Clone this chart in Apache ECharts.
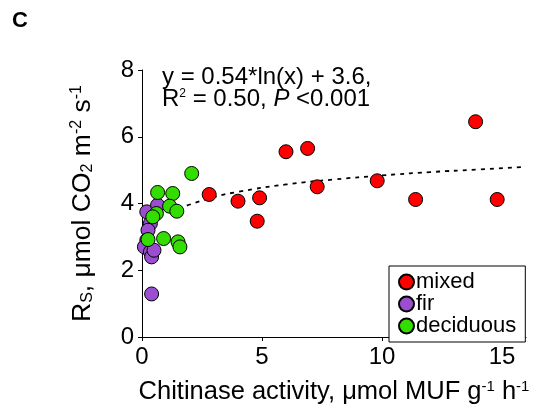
<!DOCTYPE html>
<html>
<head>
<meta charset="utf-8">
<script src="https://cdn.jsdelivr.net/npm/echarts@6/dist/echarts.min.js"></script>
<style>
  html, body { margin: 0; padding: 0; background: #fff; }
  #chart { width: 553px; height: 412px; }
</style>
</head>
<body>
<div id="chart"></div>
<script>
// values
var mixedX = [2.8, 4.0, 4.8, 4.9, 6.0, 6.9, 7.3, 9.8, 11.4, 13.9, 14.8];
var mixedY = [4.27, 4.07, 3.47, 4.17, 5.55, 5.65, 4.5, 4.68, 4.12, 6.45, 4.12];

var firX = [0.2, 0.65, 0.35, 0.25, 0.2, 0.1, 0.35, 0.4, 0.5, 0.4];
var firY = [3.75, 3.95, 3.4, 3.2, 2.9, 2.7, 2.55, 2.4, 2.6, 1.29];

var decidX = [2.07, 0.65, 1.28, 1.15, 1.45, 0.6, 0.45, 0.9, 0.25, 1.5, 1.58];
var decidY = [4.9, 4.33, 4.3, 3.92, 3.77, 3.7, 3.6, 2.95, 2.92, 2.85, 2.7];

// dotted fit curve
var fitX = [1.2, 1.5, 2, 3, 4, 6, 8, 10, 12, 14, 16];
var fitY = [3.7, 3.82, 3.97, 4.19, 4.35, 4.57, 4.72, 4.84, 4.94, 5.02, 5.1];

var xTicks = [0, 5, 10, 15];
var seriesNames = ['mixed', 'fir', 'deciduous'];
var seriesColors = ['#ff0000', '#9b4fd0', '#33dd00'];

function pairs(xs, ys) {
  var out = [];
  for (var i = 0; i < xs.length; i++) out.push([xs[i], ys[i]]);
  return out;
}

var font = 'Liberation Sans, Arial, sans-serif';
var chart = echarts.init(document.getElementById('chart'), null, {renderer: 'canvas'});

var scatterStyle = function (c) {
  return {color: c, borderColor: '#000', borderWidth: 1, opacity: 1};
};

var option = {
  animation: false,
  backgroundColor: '#fff',
  textStyle: {fontFamily: font, color: '#000'},
  grid: {left: 142, right: 27, top: 70, bottom: 75, containLabel: false, outerBoundsMode: 'none'},
  legend: {
    data: seriesNames,
    orient: 'vertical',
    left: 389,
    top: 266,
    padding: [5, 9, 5, 9],
    itemGap: 0,
    itemWidth: 15,
    itemHeight: 15,
    icon: 'circle',
    borderColor: '#000',
    borderWidth: 1,
    borderRadius: 0,
    backgroundColor: '#fff',
    textStyle: {fontSize: 22, lineHeight: 20, color: '#000', fontFamily: font, padding: [0, 0, 0, -3]}
  },
  xAxis: {
    type: 'value',
    min: 0,
    max: 16,
    interval: 5,
    name: 'Chitinase activity, μmol MUF g{sup|-1} h{sup|-1}',
    nameLocation: 'middle',
    nameGap: 42,
    nameTextStyle: {
      fontSize: 25.5, color: '#000', fontFamily: font,
      rich: {sup: {fontSize: 15, verticalAlign: 'top', color: '#000', fontFamily: font}}
    },
    splitLine: {show: false},
    axisLine: {onZero: false, lineStyle: {color: '#000', width: 1}},
    axisTick: {length: 4, customValues: xTicks, lineStyle: {color: '#000'}},
    axisLabel: {fontSize: 24, color: '#000', margin: 8, customValues: xTicks, fontFamily: font}
  },
  yAxis: {
    type: 'value',
    min: 0,
    max: 8,
    interval: 2,
    name: 'R{sub|S}, μmol CO{sub|2} m{sup|-2} s{sup|-1}',
    nameLocation: 'middle',
    nameGap: 46,
    nameRotate: 90,
    nameTextStyle: {
      fontSize: 26.5, color: '#000', fontFamily: font,
      rich: {
        sup: {fontSize: 16, verticalAlign: 'top', color: '#000', fontFamily: font},
        sub: {fontSize: 16, verticalAlign: 'bottom', color: '#000', fontFamily: font}
      }
    },
    splitLine: {show: false},
    axisLine: {show: true, onZero: false, lineStyle: {color: '#000', width: 1}},
    axisTick: {show: true, length: 4, lineStyle: {color: '#000'}},
    axisLabel: {fontSize: 24, color: '#000', margin: 8, fontFamily: font}
  },
  graphic: [
    {
      type: 'text', left: 12, top: 10,
      style: {text: 'C', fontSize: 22, fontWeight: 'bold', fill: '#000', fontFamily: font}
    },
    {
      type: 'text', left: 162, top: 65,
      style: {
        text: 'y = 0.54*ln(x) + 3.6,\nR{sup|2} = 0.50, {it|P} <0.001',
        fontSize: 24, lineHeight: 22, fill: '#000', fontFamily: font,
        rich: {
          sup: {fontSize: 12, verticalAlign: 'top', fill: '#000', fontFamily: font},
          it: {fontSize: 24, fontStyle: 'italic', fill: '#000', fontFamily: font}
        }
      }
    }
  ],
  series: [
    {
      name: 'fit',
      type: 'line',
      smooth: true,
      showSymbol: false,
      z: 1,
      data: pairs(fitX, fitY),
      lineStyle: {color: '#000', width: 1.8, type: [4, 5]}
    },
    {
      name: seriesNames[0], type: 'scatter', symbolSize: 14, z: 3,
      itemStyle: scatterStyle(seriesColors[0]), data: pairs(mixedX, mixedY)
    },
    {
      name: seriesNames[1], type: 'scatter', symbolSize: 14, z: 3,
      itemStyle: scatterStyle(seriesColors[1]), data: pairs(firX, firY)
    },
    {
      name: seriesNames[2], type: 'scatter', symbolSize: 14, z: 3,
      itemStyle: scatterStyle(seriesColors[2]), data: pairs(decidX, decidY)
    }
  ]
};
chart.setOption(option);
</script>
</body>
</html>
